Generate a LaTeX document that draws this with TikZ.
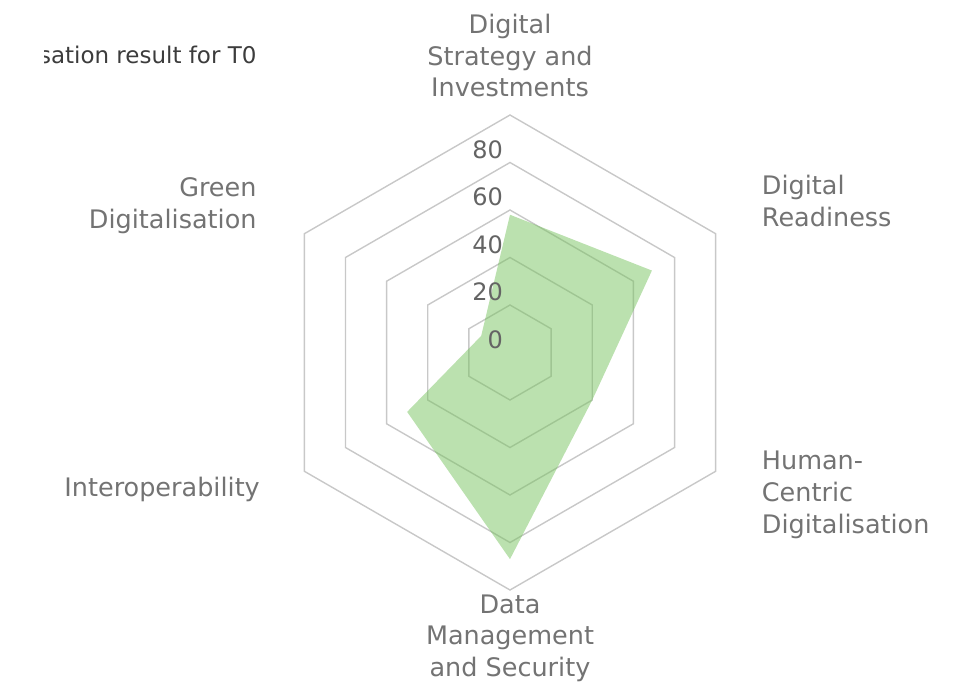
\documentclass[tikz,border=0pt]{standalone}
\usepackage{fontspec}
\setmainfont{DejaVu Sans}
\usepackage{tikz}
\usetikzlibrary{positioning}
\definecolor{gridgray}{RGB}{200,200,200}
\definecolor{labelgray}{RGB}{115,115,115}
\definecolor{tickgray}{RGB}{100,100,100}
\definecolor{titlegray}{RGB}{60,60,60}
\definecolor{scoregreen}{RGB}{120,195,95}
\tikzstyle{grid line}=[draw=gridgray,line width=1.4pt,line join=miter]
\tikzstyle{score area}=[fill=scoregreen,fill opacity=0.5]
\tikzstyle{axis label}=[inner sep=0pt,text depth=0pt,align=center,text=labelgray,font=\fontsize{25.5}{31.7}\selectfont]
\tikzstyle{tick label}=[inner sep=0pt,anchor=base east,text=tickgray,font=\fontsize{24}{28}\selectfont]
\newcommand{\axislabel}[4][]{
  \node [axis label, #1] (#2) at #3 {#4}
}

\begin{document}
\begin{tikzpicture}[x=2.375pt,y=2.375pt]
        \useasboundingbox (-510pt,-336.5pt) rectangle (455pt,352.5pt);
        % rings
        \foreach \r in {20,40,60,80,100}
          \draw[grid line] (90:\r) -- (30:\r) -- (-30:\r) -- (-90:\r) -- (-150:\r) -- (150:\r) -- cycle;

        % scores
        \coordinate (dsi) at (90:58);
        \coordinate (dr) at (30:69);
        \coordinate (hcd) at (-30:40);
        \coordinate (dms) at (-90:87);
        \coordinate (iop) at (-150:50);
        \coordinate (gd) at (150:14);
        \fill[score area] (dsi) -- (dr) -- (hcd) -- (dms) -- (iop) -- (gd) -- cycle;

        \foreach \v in {0,20,40,60,80}
          \node[tick label] (tick\v) at ([xshift=-7pt,yshift=4.2pt]0,\v) {\v};

        \axislabel[anchor=south]{dsilabel}{(0pt,255.5pt)}{Digital\\Strategy and\\Investments};
        \axislabel[anchor=south west,align=left]{drlabel}{(251.7pt,125.8pt)}{Digital\\Readiness};
        \axislabel[anchor=south west,align=left]{hcdlabel}{(251.7pt,-180.8pt)}{Human-\\Centric\\Digitalisation};
        \axislabel[anchor=south]{dmslabel}{(0pt,-324.2pt)}{Data\\Management\\and Security};
        \axislabel[anchor=south east,align=right]{ioplabel}{(-250pt,-144.2pt)}{Interoperability};
        \axislabel[anchor=south east,align=right]{gdlabel}{(-253.3pt,124.2pt)}{Green\\Digitalisation};

        \begin{scope}
          \clip (-465pt,250pt) rectangle (0pt,320pt);
          \node[inner sep=0pt,anchor=base east,text=titlegray,font=\fontsize{23}{28}\selectfont] (title) at (-253.3pt,289.2pt) {sation result for T0};
        \end{scope}
\end{tikzpicture}
\end{document}
